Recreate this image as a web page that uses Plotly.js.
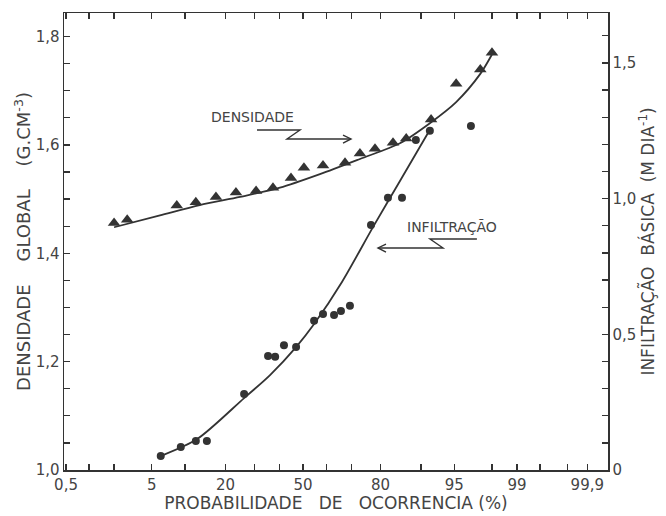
<!DOCTYPE html>
<html>
<head>
<meta charset="utf-8">
<script src="https://cdn.plot.ly/plotly-3.0.1.min.js"></script>
<style>html,body{margin:0;padding:0;background:#fff;}#chart{width:666px;height:516px;}</style>
</head>
<body>
<div id="chart"></div>
<script>
// ---- data (probability of occurrence in %) ----
const densProb = [2.0, 2.8, 8.5, 12.2, 17.2, 23.3, 30.5, 37.2, 44.8, 50.4, 58.6, 67.6, 73.2, 78.3, 83.6, 86.9, 91.8, 95.2, 97.3, 98.0];
const densVal  = [1.456, 1.462, 1.488, 1.494, 1.504, 1.512, 1.515, 1.521, 1.539, 1.558, 1.562, 1.567, 1.584, 1.593, 1.604, 1.612, 1.647, 1.713, 1.739, 1.770];

const infProb = [6.1, 9.2, 12.2, 14.8, 26.1, 35.2, 38.1, 41.8, 47.0, 54.8, 58.6, 63.2, 66.0, 69.5, 77.0, 82.2, 85.9, 89.0, 91.6, 96.6];
const infVal  = [0.052, 0.085, 0.107, 0.107, 0.28, 0.42, 0.417, 0.46, 0.453, 0.55, 0.575, 0.571, 0.586, 0.605, 0.903, 1.003, 1.003, 1.216, 1.25, 1.268];

// fitted curves as drawn in the figure
const densCurveProb = [2.0, 6.0, 13.1, 24.7, 40.1, 57.3, 73.2, 85.4, 91.6, 95.2, 97.3, 98.05];
const densCurveVal  = [1.448, 1.470, 1.489, 1.504, 1.521, 1.546, 1.574, 1.603, 1.640, 1.679, 1.731, 1.770];

const infCurveProb = [6.4, 12.5, 26.1, 36.0, 47.0, 54.8, 66.4, 77.7, 85.4, 91.8];
const infCurveVal  = [0.055, 0.114, 0.265, 0.350, 0.453, 0.538, 0.693, 0.896, 1.065, 1.261];

const xTickProb  = [0.5, 5, 20, 50, 80, 95, 99, 99.9];
const xTickText  = ["0,5", "5", "20", "50", "80", "95", "99", "99,9"];
const xMinorProb = [1, 2, 10, 30, 40, 60, 70, 90, 98, 99.5, 99.8];

const yTickVals = [1.0, 1.2, 1.4, 1.6, 1.8];
const yTickText = ["1,0", "1,2", "1,4", "1,6", "1,8"];
const y2TickVals = [0, 0.5, 1.0, 1.5];
const y2TickText = ["0", "0,5", "1,0", "1,5"];

// ---- normal-probability (probit) scale ----
function probit(p) {
  const a = [-3.969683028665376e+01, 2.209460984245205e+02, -2.759285104469687e+02, 1.383577518672690e+02, -3.066479806614716e+01, 2.506628277459239e+00];
  const b = [-5.447609879822406e+01, 1.615858368580409e+02, -1.556989798598866e+02, 6.680131188771972e+01, -1.328068155288572e+01];
  const c = [-7.784894002430293e-03, -3.223964580411365e-01, -2.400758277161838e+00, -2.549732539343734e+00, 4.374664141464968e+00, 2.938163982698783e+00];
  const d = [7.784695709041462e-03, 3.224671290700398e-01, 2.445134137142996e+00, 3.754408661907416e+00];
  const pl = 0.02425, ph = 1 - pl;
  let q, r;
  if (p < pl) {
    q = Math.sqrt(-2 * Math.log(p));
    return (((((c[0]*q+c[1])*q+c[2])*q+c[3])*q+c[4])*q+c[5]) / ((((d[0]*q+d[1])*q+d[2])*q+d[3])*q+1);
  } else if (p <= ph) {
    q = p - 0.5; r = q*q;
    return (((((a[0]*r+a[1])*r+a[2])*r+a[3])*r+a[4])*r+a[5])*q / (((((b[0]*r+b[1])*r+b[2])*r+b[3])*r+b[4])*r+1);
  } else {
    q = Math.sqrt(-2 * Math.log(1 - p));
    return -(((((c[0]*q+c[1])*q+c[2])*q+c[3])*q+c[4])*q+c[5]) / ((((d[0]*q+d[1])*q+d[2])*q+d[3])*q+1);
  }
}
const Z = arr => arr.map(p => probit(p / 100));

const ink = '#333333';
const txt = '#444444';
const FONT = 'DejaVu Sans, Liberation Sans, sans-serif';

const traces = [
  { x: Z(densCurveProb), y: densCurveVal, mode: 'lines', line: { color: ink, width: 1.8, shape: 'spline', smoothing: 0.8 }, yaxis: 'y', hoverinfo: 'skip', showlegend: false },
  { x: Z(infCurveProb), y: infCurveVal, mode: 'lines', line: { color: ink, width: 1.8, shape: 'spline', smoothing: 0.8 }, yaxis: 'y2', hoverinfo: 'skip', showlegend: false },
  { x: Z(densProb), y: densVal, mode: 'markers', name: 'Densidade', marker: { symbol: 'triangle-up', size: 11, color: ink }, yaxis: 'y', showlegend: false },
  { x: Z(infProb), y: infVal, mode: 'markers', name: 'Infiltração', marker: { symbol: 'circle', size: 8, color: ink }, yaxis: 'y2', showlegend: false }
];

const axisCommon = {
  showgrid: false, zeroline: false, showline: true, linecolor: ink, linewidth: 1.5,
  ticks: 'inside', ticklen: 6, tickwidth: 1.3, tickcolor: ink,
  tickfont: { family: FONT, size: 15, color: txt }
};

const layout = {
  width: 666, height: 516,
  margin: { l: 64, r: 58, t: 13, b: 46 },
  paper_bgcolor: '#ffffff', plot_bgcolor: '#ffffff',
  font: { family: FONT, color: txt },
  xaxis: Object.assign({}, axisCommon, {
    range: [-2.598, 3.315], tickmode: 'array', tickvals: Z(xTickProb), ticktext: xTickText,
    mirror: 'ticks',
    minor: { tickmode: 'array', tickvals: Z(xMinorProb), ticks: 'inside', ticklen: 6, tickwidth: 1.3, tickcolor: ink },
    title: { text: 'PROBABILIDADE   DE   OCORRENCIA (%)', font: { family: FONT, size: 17, color: txt }, standoff: 2 }
  }),
  yaxis: Object.assign({}, axisCommon, {
    range: [1.0, 1.8434], tickmode: 'array', tickvals: yTickVals, ticktext: yTickText,
    minor: { dtick: 0.05, tick0: 1.0, ticks: 'inside', ticklen: 6, tickwidth: 1.3, tickcolor: ink },
    title: { text: 'DENSIDADE    GLOBAL    (G.CM<sup>-3</sup>)', font: { family: FONT, size: 18, color: txt }, standoff: 0 }
  }),
  yaxis2: Object.assign({}, axisCommon, {
    overlaying: 'y', side: 'right',
    range: [0, 1.684], tickmode: 'array', tickvals: y2TickVals, ticktext: y2TickText,
    minor: { dtick: 0.1, tick0: 0, ticks: 'inside', ticklen: 6, tickwidth: 1.3, tickcolor: ink },
    title: { text: 'INFILTRAÇÃO  BÁSICA  (M DIA<sup>-1</sup>)', font: { family: FONT, size: 17, color: txt }, standoff: 2 }
  }),
  shapes: [
    // DENSIDADE pointer with arrowhead
    { type: 'path', xref: 'paper', yref: 'paper', path: 'M 0.3548 0.744 L 0.4338 0.744 L 0.4099 0.7243 L 0.5276 0.7243', line: { color: ink, width: 1.4 } },
    { type: 'path', xref: 'paper', yref: 'paper', path: 'M 0.5129 0.7330 L 0.5276 0.7243 L 0.5129 0.7155', line: { color: ink, width: 1.4 } },
    // INFILTRAÇÃO pointer with arrowhead
    { type: 'path', xref: 'paper', yref: 'paper', path: 'M 0.759 0.5055 L 0.6728 0.5055 L 0.6967 0.4858 L 0.5772 0.4858', line: { color: ink, width: 1.4 } },
    { type: 'path', xref: 'paper', yref: 'paper', path: 'M 0.5919 0.4945 L 0.5772 0.4858 L 0.5919 0.4770', line: { color: ink, width: 1.4 } }
  ],
  annotations: [
    { xref: 'paper', yref: 'paper', x: 0.3456, y: 0.7724, xanchor: 'center', yanchor: 'middle', text: 'DENSIDADE', showarrow: false, font: { family: FONT, size: 14, color: txt } },
    { xref: 'paper', yref: 'paper', x: 0.7132, y: 0.5317, xanchor: 'center', yanchor: 'middle', text: 'INFILTRAÇÃO', showarrow: false, font: { family: FONT, size: 14, color: txt } }
  ]
};

Plotly.newPlot('chart', traces, layout, { staticPlot: true, displayModeBar: false });
</script>
</body>
</html>
